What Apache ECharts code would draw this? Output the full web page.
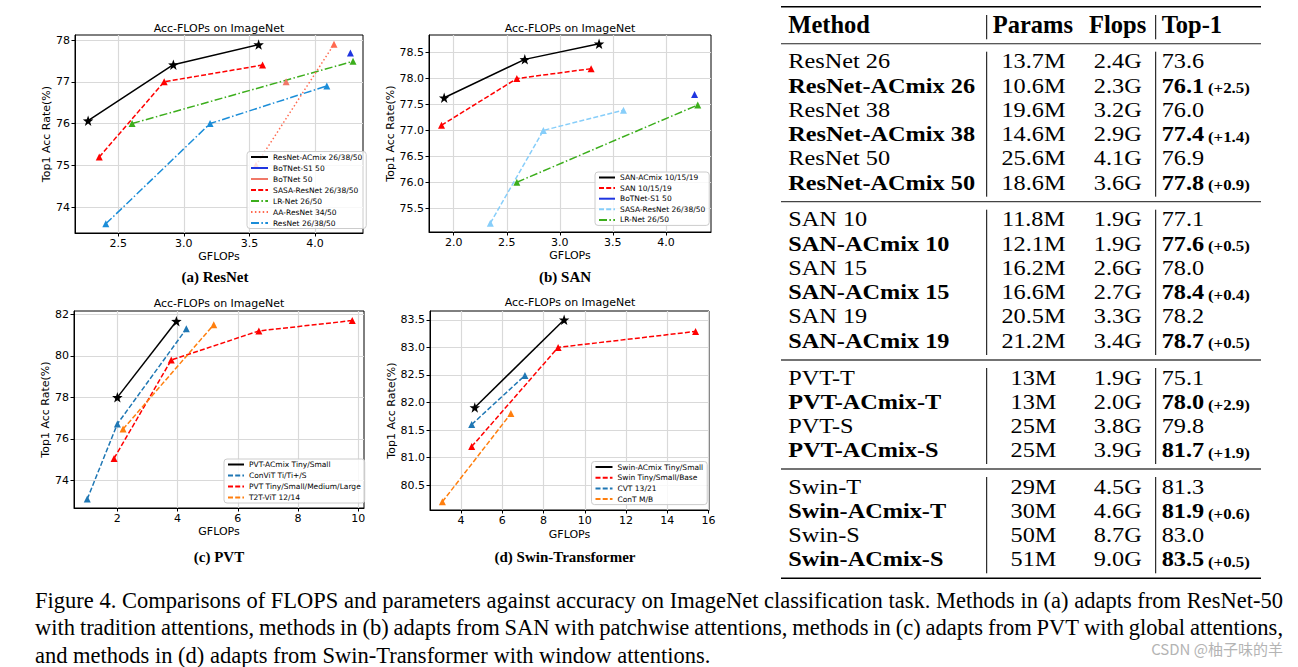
<!DOCTYPE html>
<html><head><meta charset="utf-8">
<script src="https://cdn.jsdelivr.net/npm/echarts@6/dist/echarts.min.js"></script>
<style>html,body{margin:0;padding:0;background:#fff}#c{width:1298px;height:667px}</style>
</head><body><div id="c"></div>
<script>
// ---------- Panel (a) ResNet ----------
const aAcmixX=[2.27,2.92,3.57], aAcmixY=[76.07,77.41,77.89];
const aBotS1X=[4.27], aBotS1Y=[77.69];
const aBotX=[3.78], aBotY=[77.0];
const aSasaX=[2.355,2.85,3.6], aSasaY=[75.2,77.0,77.4];
const aLrX=[2.605,4.29], aLrY=[76.0,77.49];
const aAaX=[3.55,4.145], aAaY=[75.0,77.9];
const aResX=[2.405,3.2,4.09], aResY=[73.6,76.0,76.9];
// ---------- Panel (b) SAN ----------
const bAcmixX=[1.91,2.67,3.37], bAcmixY=[77.63,78.37,78.67];
const bSanX=[1.885,2.595,3.295], bSanY=[77.1,78.0,78.19];
const bBotS1X=[4.27], bBotS1Y=[77.69];
const bSasaX=[2.345,2.845,3.6], bSasaY=[75.21,77.0,77.39];
const bLrX=[2.595,4.3], bLrY=[76.0,77.49];
// ---------- Panel (c) PVT ----------
const cAcmixX=[2.0,3.96], cAcmixY=[78.0,81.67];
const cConvitX=[1.0,2.0,4.29], cConvitY=[73.1,76.72,81.3];
const cPvtX=[1.89,3.79,6.7,9.8], cPvtY=[75.06,79.8,81.2,81.7];
const cT2tX=[2.19,5.2], cT2tY=[76.47,81.5];
// ---------- Panel (d) Swin ----------
const dAcmixX=[4.67,9.0], dAcmixY=[81.91,83.5];
const dSwinX=[4.52,8.71,15.37], dSwinY=[81.2,83.0,83.29];
const dCvtX=[4.52,7.1], dCvtY=[81.6,82.49];
const dContX=[3.1,6.42], dContY=[80.2,81.8];
// ---------- tick labels ----------
const aXTicks=[2.5,3.0,3.5,4.0], aYTicks=[74,75,76,77,78];
const bXTicks=[2.0,2.5,3.0,3.5,4.0], bYTicks=[75.5,76.0,76.5,77.0,77.5,78.0,78.5];
const cXTicks=[2,4,6,8,10], cYTicks=[74,76,78,80,82];
const dXTicks=[4,6,8,10,12,14,16], dYTicks=[80.5,81.0,81.5,82.0,82.5,83.0,83.5];
// ---------- table ----------
const methods=['ResNet 26','ResNet-ACmix 26','ResNet 38','ResNet-ACmix 38','ResNet 50','ResNet-ACmix 50',
 'SAN 10','SAN-ACmix 10','SAN 15','SAN-ACmix 15','SAN 19','SAN-ACmix 19',
 'PVT-T','PVT-ACmix-T','PVT-S','PVT-ACmix-S',
 'Swin-T','Swin-ACmix-T','Swin-S','Swin-ACmix-S'];
const params=['13.7M','10.6M','19.6M','14.6M','25.6M','18.6M','11.8M','12.1M','16.2M','16.6M','20.5M','21.2M',
 '13M','13M','25M','25M','29M','30M','50M','51M'];
const flops=['2.4G','2.3G','3.2G','2.9G','4.1G','3.6G','1.9G','1.9G','2.6G','2.7G','3.3G','3.4G',
 '1.9G','2.0G','3.8G','3.9G','4.5G','4.6G','8.7G','9.0G'];
const top1=['73.6','76.1','76.0','77.4','76.9','77.8','77.1','77.6','78.0','78.4','78.2','78.7',
 '75.1','78.0','79.8','81.7','81.3','81.9','83.0','83.5'];
const gains=['','(+2.5)','','(+1.4)','','(+0.9)','','(+0.5)','','(+0.4)','','(+0.5)',
 '','(+2.9)','','(+1.9)','','(+0.6)','','(+0.5)'];
const groupSizes=[6,6,4,4];
const headers=['Method','Params','Flops','Top-1'];
const captionLines=[
 'Figure 4. Comparisons of FLOPS and parameters against accuracy on ImageNet classification task. Methods in (a) adapts from ResNet-50',
 'with tradition attentions, methods in (b) adapts from SAN with patchwise attentions, methods in (c) adapts from PVT with global attentions,',
 'and methods in (d) adapts from Swin-Transformer with window attentions.'];
const subCaptions=['(a) ResNet','(b) SAN','(c) PVT','(d) Swin-Transformer'];
const plotTitle='Acc-FLOPs on ImageNet';
const watermark='CSDN @柚子味的羊';

// ================= build =================
const pts=(xs,ys)=>xs.map((x,i)=>[x,ys[i]]);
const DASH=[5,2.2], DASHDOT=[8,2.4,1.5,2.4], DOT=[1.5,2.4];
const STAR='path://M100,0L123.5,67.6L195.1,69.1L138,112.4L158.8,180.9L100,140L41.2,180.9L62,112.4L4.9,69.1L76.5,67.6Z';
const FF='"DejaVu Sans", sans-serif';
const SERIF='"Liberation Serif", "Times New Roman", serif';

const defs=[
 [0,'ResNet-ACmix 26/38/50',aAcmixX,aAcmixY,'#000000','solid','star'],
 [0,'BoTNet-S1 50',aBotS1X,aBotS1Y,'#1f35e0','solid','tri'],
 [0,'BoTNet 50',aBotX,aBotY,'#f07868','solid','tri'],
 [0,'SASA-ResNet 26/38/50',aSasaX,aSasaY,'#ff0000',DASH,'tri'],
 [0,'LR-Net 26/50',aLrX,aLrY,'#3cae1c',DASHDOT,'tri'],
 [0,'AA-ResNet 34/50',aAaX,aAaY,'#ff6a50',DOT,'tri'],
 [0,'ResNet 26/38/50',aResX,aResY,'#1b8dd8',DASHDOT,'tri'],
 [1,'SAN-ACmix 10/15/19',bAcmixX,bAcmixY,'#000000','solid','star'],
 [1,'SAN 10/15/19',bSanX,bSanY,'#ff0000',DASH,'tri'],
 [1,'BoTNet-S1 50',bBotS1X,bBotS1Y,'#1f35e0','solid','tri'],
 [1,'SASA-ResNet 26/38/50',bSasaX,bSasaY,'#87cefa',DASH,'tri'],
 [1,'LR-Net 26/50',bLrX,bLrY,'#3cae1c',DASHDOT,'tri'],
 [2,'PVT-ACmix Tiny/Small',cAcmixX,cAcmixY,'#000000','solid','star'],
 [2,'ConViT Ti/Ti+/S',cConvitX,cConvitY,'#1f77b4',DASH,'tri'],
 [2,'PVT Tiny/Small/Medium/Large',cPvtX,cPvtY,'#ff0000',DASH,'tri'],
 [2,'T2T-ViT 12/14',cT2tX,cT2tY,'#ff7f0e',DASH,'tri'],
 [3,'Swin-ACmix Tiny/Small',dAcmixX,dAcmixY,'#000000','solid','star'],
 [3,'Swin Tiny/Small/Base',dSwinX,dSwinY,'#ff0000',DASH,'tri'],
 [3,'CVT 13/21',dCvtX,dCvtY,'#1f77b4',DASH,'tri'],
 [3,'ConT M/B',dContX,dContY,'#ff7f0e',DASH,'tri']
];
const P='abcd';
const series=defs.map(d=>({
  type:'line', name:P[d[0]]+':'+d[1], xAxisIndex:d[0], yAxisIndex:d[0],
  data:pts(d[2],d[3]), color:d[4],
  symbol:d[6]==='star'?STAR:'triangle', symbolSize:d[6]==='star'?10.5:7,
  lineStyle:{width:1.5,type:d[5],color:d[4]}, itemStyle:{color:d[4]},
  z:3, animation:false, silent:true
}));

const grids=[
 {left:75,top:35,width:288,height:198},
 {left:429,top:35,width:282,height:197},
 {left:74,top:311,width:290,height:197},
 {left:430,top:311,width:279,height:199}];
const xr=[[2.17,4.366],[1.767,4.425],[0.56,10.19],[2.5,16.02]];
const yr=[[73.38,78.12],[75.04,78.84],[72.67,82.16],[80.05,83.66]];
const xt=[aXTicks,bXTicks,cXTicks,dXTicks], yt=[aYTicks,bYTicks,cYTicks,dYTicks];
const xd=[1,1,0,0], yd=[0,1,0,1];
const yGap=[22,32,21,32.5], xGap=[18,18,18,19];

function axis(i,isX){
  const ticks=isX?xt[i]:yt[i], dec=isX?xd[i]:yd[i], r=isX?xr[i]:yr[i];
  return {type:'value', gridIndex:i, min:r[0], max:r[1],
    name:isX?'GFLOPs':'Top1 Acc Rate(%)', nameLocation:'middle', nameGap:isX?xGap[i]:yGap[i],
    nameTextStyle:{fontFamily:FF,fontSize:11,color:'#000'},
    axisLine:{show:true,onZero:false,lineStyle:{color:'#000',width:1}},
    axisTick:{show:true,length:3.5,customValues:ticks,lineStyle:{color:'#000',width:1}},
    axisLabel:{show:true,customValues:ticks,fontFamily:FF,fontSize:11,color:'#000',margin:5,
      formatter:v=>Number(v).toFixed(dec)},
    splitLine:{show:true,lineStyle:{color:'#d9d9d9',width:1.2}}
  };
}
const legendPos=[
 {left:247,top:151.5,itemWidth:17,itemGap:2,pad:[1,4,1,3]},
 {left:595,top:172,itemWidth:16,itemGap:1.6,pad:[1,4,1,3]},
 {left:224,top:459,itemWidth:16,itemGap:2,pad:[1,4,1,3]},
 {left:591.5,top:461.5,itemWidth:17,itemGap:1.7,pad:[1,4,1,3]}];
const legends=legendPos.map((lp,i)=>({
  show:true, orient:'vertical', left:lp.left, top:lp.top, itemWidth:lp.itemWidth, itemHeight:8,
  itemGap:lp.itemGap, padding:lp.pad, selectedMode:false,
  data:defs.filter(d=>d[0]===i).map(d=>P[i]+':'+d[1]),
  formatter:n=>n.slice(2),
  backgroundColor:'rgba(255,255,255,0.8)', borderColor:'#cccccc', borderWidth:1, borderRadius:3,
  itemStyle:{opacity:0},
  textStyle:{fontFamily:FF,fontSize:7.5,color:'#000',lineHeight:9}
}));

// ---------- graphic texts ----------
const G=[];
const titlePos=[[219,28],[570,28],[219,303],[570,302.5]];
titlePos.forEach(p=>G.push({type:'text',x:p[0],y:p[1],silent:true,
  style:{text:plotTitle,font:'11px '+FF,fill:'#000',textAlign:'center',textVerticalAlign:'middle'}}));
const subPos=[[215,277],[565,277],[219,557],[565,557]];
subPos.forEach((p,i)=>G.push({type:'text',x:p[0],y:p[1],silent:true,
  style:{text:subCaptions[i],font:'bold 15px '+SERIF,fill:'#000',textAlign:'center',textVerticalAlign:'middle'}}));

// table
const TX0=781, TX1=1261, HFS=24.5, TFS=21.6, SX=24.3/21.6;
const hl=(y,w,c)=>G.push({type:'line',silent:true,shape:{x1:TX0,y1:y,x2:TX1,y2:y},style:{stroke:c,lineWidth:w}});
const vl=(x,y1,y2)=>G.push({type:'line',silent:true,shape:{x1:x,y1:y1,x2:x,y2:y2},style:{stroke:'#000',lineWidth:1}});
const rules=[6.7,43.7,201.7,360,469,578.3];
hl(rules[0],1.6,'#000'); hl(rules[1],1.1,'#222'); hl(rules[2],1.3,'#444'); hl(rules[3],1.3,'#444'); hl(rules[4],1.3,'#444'); hl(rules[5],1.6,'#000');
const VX1=986.7, VX2=1155.7;
vl(VX1,15,39.3); vl(VX2,15,39.3);
const hdrY=24;
const hb='bold '+HFS+'px '+SERIF;
const rb='bold '+TFS+'px '+SERIF, rr=TFS+'px '+SERIF;
[[headers[0],788.3],[headers[1],992.7],[headers[2],1089],[headers[3],1161.7]].forEach(h=>
  G.push({type:'text',x:h[1],y:hdrY,silent:true,style:{text:h[0],font:hb,fill:'#000',textAlign:'left',textVerticalAlign:'middle'}}));
function cell(x,y,style){G.push({type:'text',x:x,y:y,scaleX:SX,scaleY:1,silent:true,style:Object.assign({fill:'#000',textVerticalAlign:'middle'},style)});}
let r=0;
groupSizes.forEach((n,gi)=>{
  const y0=rules[gi+1]+17.7, pitch=24.25;
  vl(VX1,rules[gi+1]+8,rules[gi+2]-5); vl(VX2,rules[gi+1]+8,rules[gi+2]-5);
  for(let k=0;k<n;k++,r++){
    const y=y0+k*pitch, bold=gains[r]!=='';
    cell(788.3,y,{text:methods[r],font:bold?rb:rr,textAlign:'left'});
    cell(1033.5,y,{text:params[r],font:rr,textAlign:'center'});
    cell(1117.8,y,{text:flops[r],font:rr,textAlign:'center'});
    if(bold){
      cell(1161.7,y,{text:'{b|'+top1[r]+'} {s|'+gains[r]+'}',textAlign:'left',
        rich:{b:{fontFamily:SERIF,fontWeight:'bold',fontSize:TFS,fill:'#000',verticalAlign:'bottom'},
              s:{fontFamily:SERIF,fontWeight:'bold',fontSize:15,fill:'#000',verticalAlign:'bottom',padding:[0,0,1,0]}}});
    } else {
      cell(1161.7,y,{text:top1[r],font:rr,textAlign:'left'});
    }
  }
});

// caption (justified lines 1-2)
const mctx=document.createElement('canvas').getContext('2d');
function mw(t,f){mctx.font=f;return mctx.measureText(t).width;}
const CX0=35, CW=1248;
let cfs=20*CW/mw(captionLines[0],'20px '+SERIF);
cfs=Math.max(17,Math.min(23,cfs));
const cf=cfs.toFixed(2)+'px '+SERIF;
const capY=[600,627.5,655];
captionLines.forEach((line,li)=>{
  if(li<2){
    const words=line.split(' ');
    const tw=words.reduce((s,w)=>s+mw(w,cf),0);
    const gap=(CW-tw)/(words.length-1);
    let x=CX0;
    words.forEach(w=>{G.push({type:'text',x:x,y:capY[li],silent:true,style:{text:w,font:cf,fill:'#000',textAlign:'left',textVerticalAlign:'middle'}});x+=mw(w,cf)+gap;});
  } else {
    G.push({type:'text',x:CX0,y:capY[li],silent:true,style:{text:line,font:cf,fill:'#000',textAlign:'left',textVerticalAlign:'middle'}});
  }
});
G.push({type:'text',x:1283,y:648,silent:true,style:{text:watermark,font:'15px "Noto Sans CJK SC", sans-serif',fill:'#b4b4b4',textAlign:'right',textVerticalAlign:'middle'}});

const chart=echarts.init(document.getElementById('c'),null,{renderer:'svg',width:1298,height:667});
chart.setOption({
  animation:false,
  backgroundColor:'#ffffff',
  grid:grids.map(g=>Object.assign({show:true,borderColor:'#000',borderWidth:1,backgroundColor:'transparent',containLabel:false},g)),
  xAxis:[0,1,2,3].map(i=>axis(i,true)),
  yAxis:[0,1,2,3].map(i=>axis(i,false)),
  legend:legends,
  series:series,
  graphic:G
});
</script></body></html>
